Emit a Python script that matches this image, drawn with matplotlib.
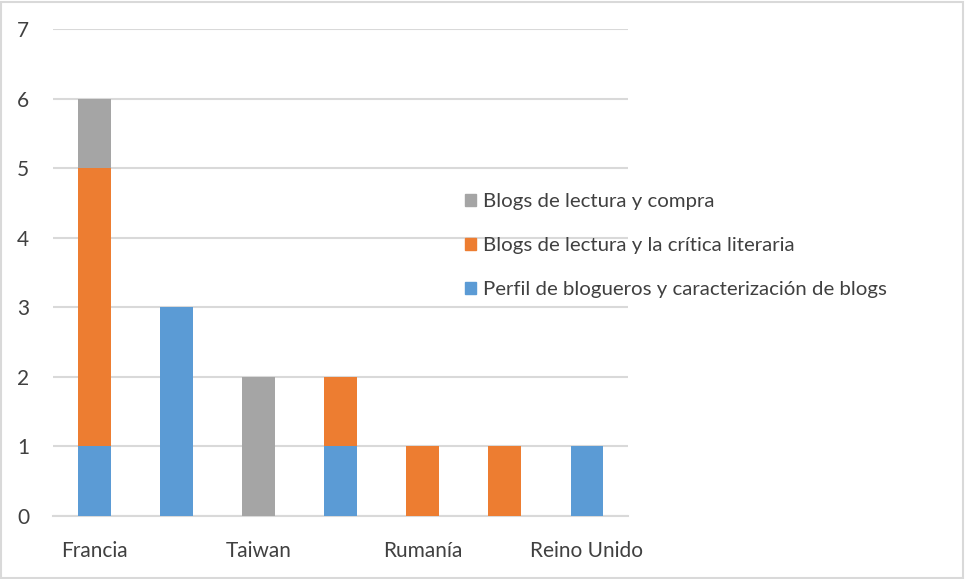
import matplotlib
matplotlib.use("Agg")
import matplotlib.pyplot as plt
from matplotlib.patches import Patch, Rectangle
import numpy as np

categories = ["Francia", "", "Taiwan", "", "Rumanía", "", "Reino Unido"]
series_names = ["Perfil de blogueros y caracterización de blogs",
                "Blogs de lectura y la crítica literaria",
                "Blogs de lectura y compra"]
perfil = [1, 3, 0, 1, 0, 0, 1]
critica = [4, 0, 0, 1, 1, 1, 0]
compra = [1, 0, 2, 0, 0, 0, 0]
colors = ["#5B9BD5", "#ED7D31", "#A5A5A5"]
y_ticks = [0, 1, 2, 3, 4, 5, 6, 7]

plt.rcParams['font.family'] = ['Lato', 'DejaVu Sans']

fig = plt.figure(figsize=(9.65, 5.79), dpi=100)
ax = fig.add_axes([53/965, 1-516/579, (628-53)/965, (516-29)/579])

x = np.arange(len(categories))
w = 0.40
bottom = np.zeros(len(categories))
for vals, c in zip([perfil, critica, compra], colors):
    ax.bar(x, vals, w, bottom=bottom, color=c, zorder=3)
    bottom += np.array(vals)

ax.set_xlim(-0.5, len(categories) - 0.5)
ax.set_ylim(0, 7)
ax.set_yticks(y_ticks)
ax.set_yticklabels([str(t) for t in y_ticks], fontsize=15, color="#404040")
ax.set_xticks(x)
ax.set_xticklabels(categories, fontsize=15, color="#404040")
ax.tick_params(axis='both', length=0)
ax.tick_params(axis='y', pad=22)
ax.tick_params(axis='x', pad=18)
for lbl in ax.get_yticklabels():
    lbl.set_horizontalalignment('left')
    lbl.set_x(-(53-17)/575)
    lbl.set_transform(ax.get_yaxis_transform())
ax.yaxis.grid(True, color="#D9D9D9", linewidth=1.5, zorder=0)
for s in ["top", "right", "left"]:
    ax.spines[s].set_visible(False)
ax.spines["bottom"].set_color("#D9D9D9")
ax.spines["bottom"].set_linewidth(1.5)

handles = [Patch(color=c) for c in colors][::-1]
labels = series_names[::-1]
fig.legend(handles, labels, loc="upper left", bbox_to_anchor=(447/965, 1-175/579),
           frameon=False, fontsize=14.7, handlelength=0.5, handleheight=0.5,
           handletextpad=0.35, labelspacing=1.32, labelcolor="#404040")

fig.add_artist(Rectangle((0.001, 0.002), 0.997, 0.995, transform=fig.transFigure,
                         fill=False, edgecolor="#D9D9D9", linewidth=1.5))
fig.savefig("out.png", dpi=100)
